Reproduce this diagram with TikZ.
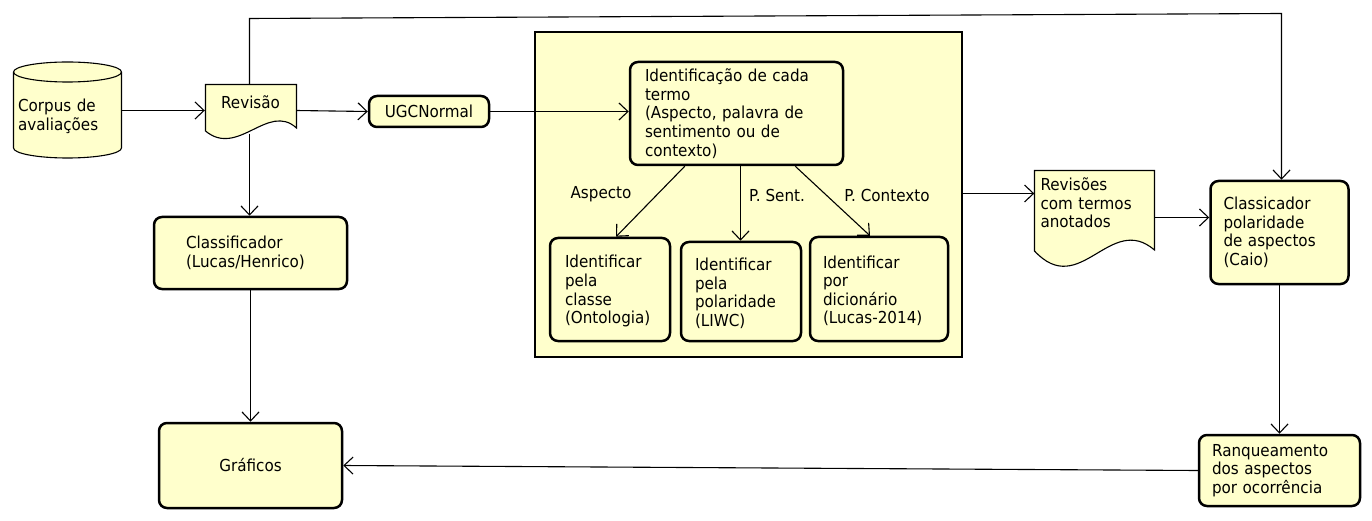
\documentclass[tikz,border=0pt]{standalone}
\usepackage{fontspec}
\setmainfont{DejaVu Sans}[FakeStretch=0.92]
\usetikzlibrary{arrows.meta}
\definecolor{fillY}{RGB}{255,255,204}
\begin{document}
\begin{tikzpicture}[x=1pt,y=1pt,
  every node/.style={font=\fontsize{16.5}{18.6}\selectfont},
  proc/.style={draw, line width=2.5pt, rounded corners=8pt, fill=fillY, align=left, inner sep=0pt},
  thinshape/.style={draw, line width=1.1pt, fill=fillY},
  arr/.style={line width=1.1pt, -{Straight Barb[length=9pt,width=17pt,line width=1.1pt]}},
  plain/.style={line width=1.1pt},
  txt/.style={inner sep=0pt, align=left}]
\useasboundingbox (0,0) rectangle (1372,-521);

% container
\node[thinshape, minimum width=427pt, minimum height=325pt, inner sep=0pt] (cont) at (748.5,-194.5) {};

% cylinder
\draw[thinshape] (13.5,-72) -- (13.5,-148) arc[start angle=180,end angle=360,x radius=54pt,y radius=10pt]
  -- (121.5,-72) arc[start angle=0,end angle=180,x radius=54pt,y radius=10pt] -- cycle;
\draw[plain] (13.5,-72) arc[start angle=180,end angle=360,x radius=54pt,y radius=10pt];

% document Revisão
\draw[thinshape] (205.5,-84.5) -- (296.5,-84.5) -- (296.5,-128)
  .. controls (268,-102) and (238,-158) .. (205.5,-131) -- cycle;

% document Revisões
\draw[thinshape] (1034.5,-170.5) -- (1154.5,-170.5) -- (1154.5,-250)
  .. controls (1110,-212) and (1080,-300) .. (1034.5,-251) -- cycle;

% text nodes for drawn shapes
\node[txt, minimum width=109pt, minimum height=88pt, text width=99pt] (corpus) at (67.5,-116.5) {Corpus de\\avaliações};
\node[txt, minimum width=91pt, minimum height=36pt, align=center] (rev) at (250.5,-102.5) {Revisão};
\node[txt, minimum width=120pt, minimum height=66pt, text width=108pt] (revs) at (1094.5,-203) {Revisões\\com termos\\anotados};

% process boxes
\node[proc, minimum width=120pt, minimum height=31pt, align=center] (ugc) at (429,-111.5) {UGCNormal};
\node[proc, minimum width=213pt, minimum height=103pt, text width=183pt] (ident) at (736.5,-113.5)
  {Identificação de cada\\termo\\(Aspecto, palavra de\\sentimento ou de\\contexto)};
\node[proc, minimum width=120pt, minimum height=103pt, text width=90pt] (box1) at (610,-289.5)
  {\rule{0pt}{16pt}Identificar\\pela\\classe\\(Ontologia)};
\node[proc, minimum width=120pt, minimum height=99pt, text width=92pt] (box2) at (741,-291.5)
  {\rule{0pt}{16pt}Identificar\\pela\\polaridade\\(LIWC)};
\node[proc, minimum width=138pt, minimum height=104pt, text width=112pt] (box3) at (879,-289)
  {\rule{0pt}{16pt}Identificar\\por\\dicionário\\(Lucas-2014)};
\node[proc, minimum width=193pt, minimum height=72pt, text width=129pt] (classif) at (250.5,-253)
  {Classificador\\(Lucas/Henrico)};
\node[proc, minimum width=183pt, minimum height=85pt, align=center] (graf) at (250.5,-465.5) {Gráficos};
\node[proc, minimum width=138pt, minimum height=103pt, text width=112pt] (clas) at (1279.5,-232.5)
  {Classicador\\polaridade\\de aspectos\\(Caio)};
\node[proc, minimum width=161pt, minimum height=71pt, text width=135pt] (rank) at (1279.5,-470.5)
  {Ranqueamento\\dos aspectos\\por ocorrência};

% edge labels
\node[txt] (lblA) at (601,-194) {Aspecto};
\node[txt] (lblB) at (777,-195) {P. Sent.};
\node[txt] (lblC) at (887,-195) {P. Contexto};

% connectors
\coordinate (c1) at (249.5,-18.5);
\coordinate (c2) at (1281.5,-13.5);
\draw[arr] ([yshift=6pt]corpus.east) -- ([yshift=-8pt]rev.west);
\draw[arr] ([yshift=-8pt]rev.east) -- (ugc.west);
\draw[arr] (ugc.east) -- (ugc.east -| ident.west);
\draw[arr] ([xshift=-1pt]rev.north) -- (c1) -- (c2) -- (c2 |- clas.north);
\draw[arr] ([xshift=-1pt,yshift=-13pt]rev.south) -- ([xshift=-1pt]classif.north);
\draw[arr] (classif.south) -- (graf.north);
\draw[arr] ([xshift=56pt]ident.south west) -- ([xshift=6pt]box1.north);
\draw[arr] ([xshift=4pt]ident.south) -- ([xshift=-0.5pt]box2.north);
\draw[arr] ([xshift=-49pt]ident.south east) -- ([xshift=-9pt]box3.north);
\draw[arr] ([yshift=1pt]cont.east) -- ([yshift=1pt]cont.east -| revs.west);
\draw[arr] ([yshift=-14.5pt]revs.east) -- ([yshift=-14.5pt]revs.east -| clas.west);
\draw[arr] (clas.south) -- (rank.north);
\draw[arr] (rank.west) -- (graf.east);
\end{tikzpicture}
\end{document}
